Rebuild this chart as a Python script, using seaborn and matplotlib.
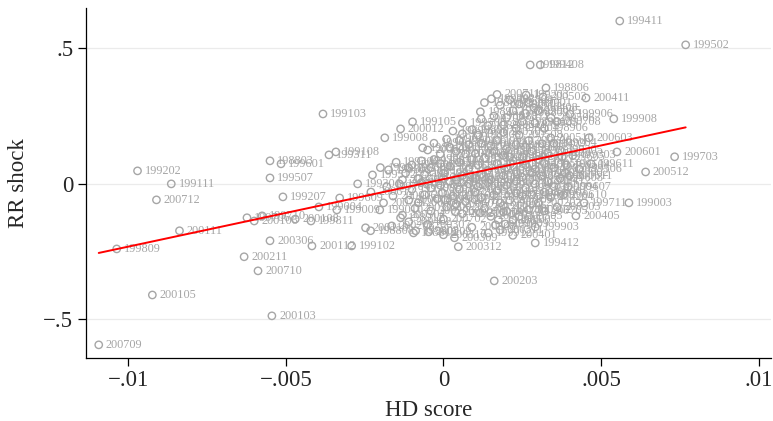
import matplotlib
matplotlib.use("Agg")
import matplotlib.pyplot as plt
import seaborn as sns
import pandas as pd
from matplotlib.ticker import FuncFormatter

# ---- data ----
period = [
    "199411","199502","199103","199202","199111","200712","200111","199809","200105","200103",
    "200709","200211","200710","200306","200112","199102","199207","198803","199601","199311",
    "199108","199507","200012","199008","199105","199505","198911","199812","199408","198806",
    "199203","200411","199002","200503","200408","199906","199908","198902","200506","200511",
    "200409","200603","200601","199703","200512","199611","200002","199605","199707","200203",
    "199412","200312","200405","199003","199711","199607","199903","199912","199706","199710",
    "200106","199811","199004","199009","199609","199301","199512","199302","199304","199010",
    "198912","200110","198808","199808","200108","199805","200003","199709","200309","200310",
    "200208","198812","200209","200301","199909","199905","200005","200007","200009","199007",
    "199807",
    "198801","198802","198804","198805","198807","198809","198810","198811",
    "198901","198903","198904","198905","198906","198907","198908","198909","198910",
    "199001","199005","199006","199011","199012",
    "199101","199104","199106","199107","199109","199110","199112",
    "199201","199204","199205","199206","199208","199209","199210","199211","199212",
    "199303","199305","199306","199307","199308","199309","199310","199312",
    "199401","199402","199403","199404","199405","199406","199407","199409","199410",
    "199501","199503","199504","199506","199508","199509","199510","199511",
    "199602","199603","199604","199606","199608","199610","199612",
    "199701","199702","199704","199705","199708","199712",
    "199801","199802","199803","199804","199806","199810",
    "199901","199902","199904","199907","199910","199911",
    "200001","200004","200006","200008","200010","200011",
    "200101","200102","200104","200107","200109",
    "200201","200202","200204","200205","200206","200207","200210","200212",
    "200302","200303","200304","200305","200307","200308","200311",
    "200401","200402","200403","200404","200406","200407","200410","200412",
    "200501","200502","200504","200505","200507","200508","200509","200510",
    "200602","200604","200605","200606","200607","200608","200609","200610","200611","200612",
    "200701","200702","200703","200704","200705","200706","200707","200708","200711",
]

hd_score = [
    0.00559, 0.00768, -0.00382, -0.00970, -0.00863, -0.00910, -0.00837, -0.01036, -0.00923, -0.00544,
    -0.01093, -0.00632, -0.00588, -0.00550, -0.00417, -0.00291, -0.00509, -0.00550, -0.00515, -0.00363,
    -0.00341, -0.00550, -0.00136, -0.00186, -0.00098, 0.00060, -0.00066, 0.00275, 0.00307, 0.00325,
    0.00262, 0.00452, 0.00152, 0.00316, 0.00288, 0.00401, 0.00540, 0.00117, 0.00341, 0.00190,
    0.00313, 0.00461, 0.00550, 0.00733, 0.00641, 0.00468, 0.00386, 0.00376, 0.00101, 0.00161,
    0.00291, 0.00047, 0.00420, 0.00588, 0.00446, 0.00395, 0.00291, 0.00142, -0.00623, -0.00575,
    -0.00600, -0.00420, -0.00395, -0.00338, -0.00329, -0.00272, -0.00225, -0.00174, -0.00111, -0.00202,
    -0.00136, -0.00247, -0.00231, -0.00088, -0.00470, 0.00180, 0.00231, 0.00190, 0.00035, 0.00000,
    -0.00164, -0.00095, -0.00047, 0.00165, 0.00196, 0.00174, 0.00221, 0.00038, 0.00117, -0.00003,
    0.00006,
    0.00130, 0.00180, 0.00210, 0.00240, 0.00220, 0.00260, 0.00160, 0.00200, 0.00250, 0.00140,
    0.00230, 0.00290, 0.00320, 0.00090, 0.00110, 0.00030, 0.00060, 0.00270, 0.00300,
    -0.00030, 0.00010, 0.00050, 0.00080, 0.00120, 0.00150, 0.00170, 0.00200, 0.00230, 0.00260,
    0.00280, 0.00350, 0.00330, 0.00190, 0.00130, 0.00040, -0.00010, 0.00250, 0.00300, 0.00410,
    0.00370,
    -0.00150, -0.00100, -0.00070, -0.00040, -0.00010, 0.00020, 0.00050, 0.00080, 0.00110, 0.00140,
    0.00170, 0.00200, 0.00230, 0.00260, 0.00290, 0.00320, 0.00350, 0.00390, 0.00430, -0.00120,
    -0.00060, 0.00000, 0.00060, 0.00120, 0.00190, 0.00250, 0.00310, 0.00370, -0.00200, -0.00030,
    0.00090, 0.00220,
    -0.00180, -0.00140, -0.00100, -0.00070, -0.00040, -0.00010, 0.00020, 0.00050, 0.00080, 0.00110,
    0.00140, 0.00170, 0.00200, 0.00230, 0.00260, 0.00290, 0.00320, 0.00350, -0.00160, -0.00110,
    -0.00060, -0.00020, 0.00030, 0.00070, 0.00120, 0.00160, 0.00210, 0.00250, 0.00300, 0.00340,
    -0.00090, -0.00040, 0.00010, 0.00060, 0.00130, 0.00270, 0.00360, -0.00130, 0.00240,
    -0.00050, 0.00090, 0.00180, 0.00220, -0.00110,
    0.00000, 0.00040, 0.00100, 0.00150, 0.00280, 0.00330, -0.00080, -0.00130, 0.00070, 0.00160,
    0.00210, 0.00240, 0.00190, 0.00340, 0.00020, -0.00050, 0.00100, 0.00190, 0.00040, -0.00080,
    0.00280, 0.00380, 0.00400, -0.00230, -0.00190, 0.00000, 0.00150, 0.00200, 0.00320, 0.00270,
    0.00120, 0.00360, 0.00170,
]

rr_shock = [
    0.601, 0.513, 0.258, 0.048, 0.000, -0.059, -0.173, -0.240, -0.410, -0.487,
    -0.594, -0.269, -0.321, -0.210, -0.229, -0.229, -0.048, 0.085, 0.074, 0.107,
    0.118, 0.022, 0.203, 0.170, 0.229, 0.225, 0.133, 0.439, 0.439, 0.354,
    0.328, 0.317, 0.314, 0.321, 0.280, 0.258, 0.240, 0.266, 0.244, 0.218,
    0.148, 0.170, 0.118, 0.100, 0.044, 0.074, 0.041, 0.100, 0.111, -0.358,
    -0.218, -0.232, -0.118, -0.070, -0.070, -0.011, -0.159, -0.181, -0.125, -0.118,
    -0.137, -0.137, -0.085, -0.096, -0.052, 0.000, 0.033, 0.052, 0.059, -0.096,
    -0.125, -0.162, -0.173, -0.173, -0.130, -0.070, -0.033, -0.103, -0.199, -0.188,
    -0.155, -0.181, -0.177, -0.151, -0.148, -0.133, -0.133, -0.103, -0.107, -0.033,
    -0.059,
    0.300, 0.290, 0.310, 0.295, 0.270, 0.260, 0.250, 0.245, 0.230, 0.215,
    0.205, 0.225, 0.205, 0.200, 0.180, 0.195, 0.185, 0.300, 0.270,
    0.150, 0.165, 0.160, 0.145, 0.150, 0.140, 0.160, 0.130, 0.145, 0.135,
    0.120, 0.150, 0.115, 0.105, 0.095, 0.120, 0.110, 0.100, 0.090, 0.105,
    0.125,
    0.080, 0.070, 0.085, 0.060, 0.075, 0.065, 0.080, 0.055, 0.070, 0.050,
    0.075, 0.060, 0.045, 0.070, 0.055, 0.075, 0.060, 0.070, 0.055, 0.040,
    0.035, 0.040, 0.030, 0.035, 0.030, 0.025, 0.030, 0.020, 0.060, 0.090,
    0.090, 0.085,
    -0.010, 0.000, -0.020, 0.005, -0.015, -0.005, 0.010, -0.020, 0.000, -0.010,
    0.005, -0.025, -0.005, 0.010, -0.015, 0.000, -0.030, -0.010, -0.045, -0.060,
    -0.040, -0.055, -0.045, -0.065, -0.050, -0.040, -0.060, -0.045, -0.070, -0.050,
    -0.090, -0.100, -0.085, -0.110, -0.090, -0.095, -0.085, -0.115, -0.120,
    -0.150, -0.160, -0.170, -0.190, -0.140,
    0.020, 0.015, 0.020, 0.015, 0.040, 0.010, 0.020, 0.015, 0.110, 0.120,
    0.100, 0.180, 0.190, 0.170, 0.135, 0.125, -0.030, -0.080, -0.075, -0.070,
    -0.040, -0.040, 0.030, -0.030, -0.070, -0.130, -0.120, -0.100, -0.100, 0.160,
    0.240, 0.230, 0.330,
]

x_ticks = [-0.01, -0.005, 0, 0.005, 0.01]
y_ticks = [-0.5, 0, 0.5]

df = pd.DataFrame({"period": period, "hd": hd_score, "rr": rr_shock})

# ---- style ----
sns.set_style("white")
plt.rcParams["font.family"] = ["Liberation Serif", "DejaVu Serif"]
plt.rcParams["axes.unicode_minus"] = True

fig, ax = plt.subplots(figsize=(7.73, 4.21), dpi=100)
fig.subplots_adjust(left=0.111, right=0.998, bottom=0.150, top=0.981)

grey = "#a6a6a6"
sns.scatterplot(data=df, x="hd", y="rr", ax=ax, marker="o", s=28,
                linewidth=1.0, zorder=3, legend=False)
coll = ax.collections[0]
coll.set_facecolor("none")
coll.set_edgecolor(grey)

for p, xv, yv in zip(df["period"], df["hd"], df["rr"]):
    ax.annotate(p, (xv, yv), xytext=(5.2, 0), textcoords="offset points",
                va="center", ha="left", fontsize=8.8, color=grey, zorder=3)

sns.regplot(data=df, x="hd", y="rr", ax=ax, scatter=False, ci=None,
            color="red", line_kws={"lw": 1.4, "zorder": 4}, truncate=True)

ax.set_xlim(-0.01134, 0.01040)
ax.set_ylim(-0.642, 0.649)
ax.set_xticks(x_ticks)
ax.set_yticks(y_ticks)


def fmt(v, pos):
    if abs(v) < 1e-12:
        return "0"
    s = ("%g" % abs(v)).lstrip("0")
    return ("\u2212" if v < 0 else "") + s


ax.xaxis.set_major_formatter(FuncFormatter(fmt))
ax.yaxis.set_major_formatter(FuncFormatter(fmt))
ax.tick_params(axis="both", labelsize=16.5, length=6, width=0.9, color="black",
               direction="out", pad=3, left=True, bottom=True)
ax.grid(axis="y", color="#ebebeb", lw=0.9)
ax.grid(axis="x", visible=False)
ax.set_axisbelow(True)

for s in ["top", "right"]:
    ax.spines[s].set_visible(False)
for s in ["left", "bottom"]:
    ax.spines[s].set_color("black")
    ax.spines[s].set_linewidth(0.9)

ax.set_xlabel("HD score", fontsize=16.5, labelpad=6)
ax.set_ylabel("RR shock", fontsize=16.5, labelpad=10)

fig.savefig("out.png", dpi=100)
